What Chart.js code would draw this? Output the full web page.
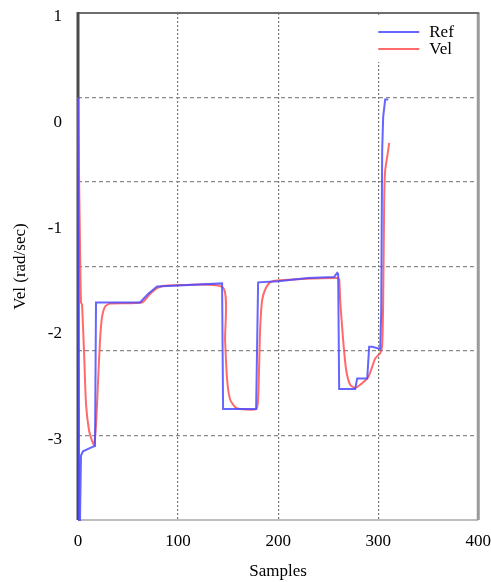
<!DOCTYPE html>
<html>
<head>
<meta charset="utf-8">
<script src="https://cdn.jsdelivr.net/npm/chart.js@4.4.1/dist/chart.umd.min.js"></script>
<style>
  html, body { margin: 0; padding: 0; background: #ffffff; }
  #wrap { width: 491px; height: 582px; }
</style>
</head>
<body>
<div id="wrap"><canvas id="c" width="491" height="582"></canvas></div>
<script>
// ---- data ----
const seriesNames = ['Ref', 'Vel'];
const refX = [0, 1, 2, 3, 5, 14, 17, 18, 62, 70, 79, 100, 144, 145, 178, 180, 200, 230, 256, 259, 260, 261, 277, 279, 289, 291, 294, 302, 303, 304, 305, 307, 310];
const refY = [0.2, -3.8, -3.8, -3.19, -3.15, -3.11, -3.10, -1.74, -1.74, -1.66, -1.59, -1.58, -1.56, -2.75, -2.75, -1.55, -1.54, -1.51, -1.50, -1.46, -1.47, -2.56, -2.56, -2.46, -2.46, -2.16, -2.16, -2.18, -1.84, -0.30, 0.02, 0.18, 0.18];
const velX = [0, 2, 3, 4, 6, 8, 11, 14, 16, 18, 20, 22, 24, 27, 32, 64, 72, 80, 90, 145, 147, 149, 152, 157, 162, 178, 180, 182, 184, 187, 192, 202, 259, 261, 262, 265, 268, 272, 277, 282, 287, 290, 294, 297, 302, 304, 305, 306, 307, 310, 311];
const velY = [0.2, -1.2, -1.74, -1.76, -2.2, -2.7, -2.95, -3.05, -3.09, -2.9, -2.5, -2.1, -1.88, -1.78, -1.75, -1.74, -1.66, -1.60, -1.58, -1.60, -2.1, -2.47, -2.66, -2.73, -2.75, -2.75, -2.66, -2.0, -1.72, -1.62, -1.55, -1.53, -1.51, -1.52, -1.72, -2.1, -2.38, -2.52, -2.55, -2.52, -2.48, -2.45, -2.35, -2.27, -2.22, -2.14, -1.72, -0.77, -0.49, -0.30, -0.23];
const xTicks = [0, 100, 200, 300, 400];
const yLabelTicks = [1, 0, -1, -2, -3];
const yGridTicks = [0.2, -0.6, -1.4, -2.2, -3.0];
const xTitle = 'Samples';
const yTitle = 'Vel (rad/sec)';

const FONT = "'Liberation Serif', 'DejaVu Serif', serif";
const colors = ['rgba(75,75,255,0.85)', 'rgba(255,80,80,0.85)'];

function pts(xs, ys) { return xs.map((x, i) => ({ x: x, y: ys[i] })); }

const frame = {
  id: 'frame',
  beforeDatasetsDraw(chart) {
    const a = chart.chartArea, ctx = chart.ctx;
    ctx.save();
    ctx.lineCap = 'butt';
    // legend background
    ctx.fillStyle = '#ffffff';
    ctx.fillRect(a.right - 115, a.top + 2, 112, 47);
    // bottom
    ctx.strokeStyle = '#bdbdbd'; ctx.lineWidth = 2;
    ctx.beginPath(); ctx.moveTo(a.left, a.bottom); ctx.lineTo(a.right, a.bottom); ctx.stroke();
    // right
    ctx.strokeStyle = '#9a9a9a'; ctx.lineWidth = 3;
    ctx.beginPath(); ctx.moveTo(a.right, a.top); ctx.lineTo(a.right, a.bottom); ctx.stroke();
    // top
    ctx.strokeStyle = '#6e6e6e'; ctx.lineWidth = 2;
    ctx.beginPath(); ctx.moveTo(a.left, a.top); ctx.lineTo(a.right + 1, a.top); ctx.stroke();
    // left
    ctx.strokeStyle = '#4a4a4a'; ctx.lineWidth = 3;
    ctx.beginPath(); ctx.moveTo(a.left, a.top - 1); ctx.lineTo(a.left, a.bottom); ctx.stroke();
    ctx.restore();
  },
  afterDraw(chart) {
    const a = chart.chartArea, ctx = chart.ctx;
    ctx.save();
    ctx.font = '17px ' + FONT;
    ctx.textBaseline = 'middle';
    ctx.textAlign = 'left';
    chart.data.datasets.forEach((ds, i) => {
      const y = a.top + 19 + i * 17;
      const x0 = a.right - 100;
      ctx.strokeStyle = ds.borderColor; ctx.lineWidth = 2;
      ctx.beginPath(); ctx.moveTo(x0, y); ctx.lineTo(x0 + 41, y); ctx.stroke();
      ctx.fillStyle = '#000';
      ctx.fillText(ds.label, x0 + 51, y + 1);
    });
    ctx.restore();
  }
};

new Chart(document.getElementById('c'), {
  type: 'line',
  data: {
    datasets: [
      { label: seriesNames[0], data: pts(refX, refY), borderColor: colors[0], borderWidth: 2, pointRadius: 0, tension: 0, clip: false },
      { label: seriesNames[1], data: pts(velX, velY), borderColor: colors[1], borderWidth: 2, pointRadius: 0, tension: 0.2, clip: false }
    ]
  },
  plugins: [frame],
  options: {
    responsive: false,
    devicePixelRatio: 1,
    animation: false,
    layout: { padding: { top: 13, right: 12, left: 0, bottom: 0 } },
    plugins: { legend: { display: false }, tooltip: { enabled: false } },
    scales: {
      x: {
        type: 'linear', min: 0, max: 400,
        afterBuildTicks(s) { s.ticks = xTicks.map(v => ({ value: v })); },
        afterFit(s) { s.height = 62; },
        ticks: { font: { family: FONT, size: 17 }, color: '#000', padding: 0, maxRotation: 0 },
        grid: {
          drawTicks: true, tickLength: 11, tickColor: 'rgba(0,0,0,0)',
          color: (c) => (c.tick && (c.tick.value === 0 || c.tick.value === 400)) ? 'rgba(0,0,0,0)' : '#777',
          lineWidth: 1.2
        },
        border: { display: false, dash: [2, 2] },
        title: { display: true, text: xTitle, font: { family: FONT, size: 17 }, color: '#000', padding: { top: 0, bottom: 0 } }
      },
      y: {
        type: 'linear', min: -3.8, max: 1,
        afterBuildTicks(s) { s.ticks = yLabelTicks.map(v => ({ value: v })); },
        afterFit(s) { s.width = 78; },
        ticks: { font: { family: FONT, size: 17 }, color: '#000', padding: 0, labelOffset: 4 },
        grid: { display: false, drawTicks: true, tickLength: 16 },
        border: { display: false },
        title: { display: true, text: yTitle, font: { family: FONT, size: 17 }, color: '#000', padding: { top: 10, bottom: 0 } }
      },
      yg: {
        type: 'linear', min: -3.8, max: 1, position: 'left',
        afterBuildTicks(s) { s.ticks = yGridTicks.map(v => ({ value: v })); },
        afterFit(s) { s.width = 0; },
        ticks: { display: false, padding: 0 },
        grid: { drawTicks: false, color: '#8a8a8a', lineWidth: 1.2 },
        border: { display: false, dash: [4, 3] }
      }
    }
  }
});
</script>
</body>
</html>
